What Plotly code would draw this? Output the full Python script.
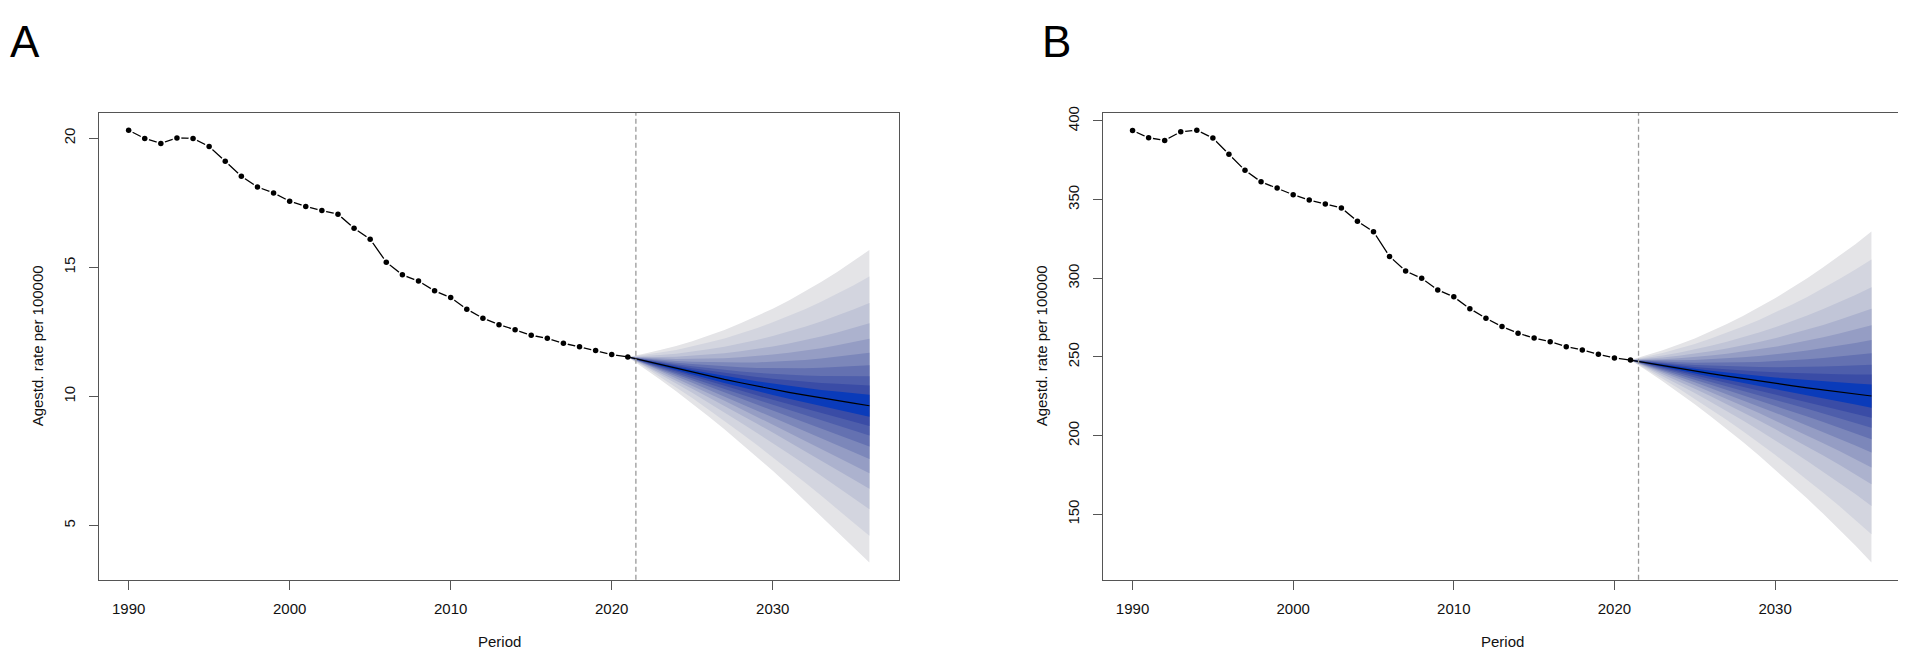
import plotly.graph_objects as go

# observed years and projection years
years_obs = list(range(1990, 2022))
years_pred = list(range(2021, 2037))
x_ticks = [1990, 2000, 2010, 2020, 2030]
cut_year = 2021.5

# panel A
a_obs = [20.31, 19.99, 19.80, 20.01, 19.99, 19.68, 19.11, 18.53, 18.11, 17.88,
         17.56, 17.36, 17.20, 17.06, 16.51, 16.09, 15.20, 14.71, 14.47, 14.09,
         13.83, 13.38, 13.03, 12.78, 12.58, 12.37, 12.25, 12.06, 11.92, 11.78,
         11.62, 11.53]
a_median = [11.53, 11.38, 11.23, 11.08, 10.94, 10.80, 10.66, 10.53, 10.40, 10.28,
            10.16, 10.05, 9.94, 9.84, 9.74, 9.64]
a_upper = [11.53, 11.65, 11.80, 11.95, 12.14, 12.35, 12.57, 12.83, 13.10, 13.40,
           13.72, 14.06, 14.43, 14.82, 15.23, 15.67]
a_lower = [11.53, 11.11, 10.66, 10.20, 9.73, 9.23, 8.73, 8.20, 7.66, 7.12,
           6.55, 5.98, 5.39, 4.79, 4.17, 3.57]
a_ticks = [5, 10, 15, 20]

# panel B
b_obs = [393.9, 389.3, 387.6, 393.1, 394.1, 389.1, 378.8, 368.6, 361.3, 357.3,
         353.1, 349.7, 347.2, 344.7, 336.3, 329.6, 313.9, 304.6, 300.0, 292.6,
         288.2, 280.7, 274.6, 269.3, 265.1, 262.0, 259.7, 256.5, 254.5, 251.7,
         249.4, 248.0]
b_median = [248.0, 246.2, 244.4, 242.7, 241.0, 239.4, 237.8, 236.2, 234.7, 233.2,
            231.8, 230.4, 229.1, 227.8, 226.5, 225.2]
b_upper = [248.0, 250.9, 254.2, 257.9, 261.8, 266.3, 270.9, 276.1, 281.5, 287.3,
           293.6, 300.0, 307.0, 314.2, 321.7, 329.8]
b_lower = [248.0, 241.4, 234.5, 227.4, 220.0, 212.2, 204.3, 195.9, 187.4, 178.5,
           169.3, 160.0, 150.3, 140.4, 130.2, 119.4]
b_ticks = [150, 200, 250, 300, 350, 400]

# share of the outer spread reached by each fan band edge (inner -> outer)
band_fracs = [0.07, 0.13, 0.19, 0.26, 0.34, 0.43, 0.53, 0.66, 0.83, 1.0]
band_colors = ["#0A3BBA", "#3A4CA6", "#4E5EAB", "#6471B1", "#7C87BA",
               "#959DC4", "#ACB2CE", "#C1C5D7", "#D3D5DF", "#E4E4E7"]

FONT = "Liberation Sans, Arial, sans-serif"
OFF = 8  # the page body margin pushes the figure 8px right and down
W, H = 1906 - OFF, 651 - OFF
AXIS_COL = "#555555"


def px_x(x):
    return (x - OFF) / W


def px_y(y):
    return 1 - (y - OFF) / H


fig = go.Figure()


def r_range(vals):
    lo, hi = min(vals), max(vals)
    pad = (hi - lo) * 0.04
    return [lo - pad, hi + pad]


def add_panel(obs, med, up, lo, xa, ya):
    # fan, outer band first
    for frac, col in reversed(list(zip(band_fracs, band_colors))):
        top = [m + frac * (u - m) for m, u in zip(med, up)]
        bot = [m - frac * (m - l) for m, l in zip(med, lo)]
        fig.add_trace(go.Scatter(
            x=years_pred + years_pred[::-1], y=top + bot[::-1],
            fill="toself", fillcolor=col, mode="lines", line=dict(width=0),
            hoverinfo="skip", showlegend=False, xaxis=xa, yaxis=ya))
    fig.add_trace(go.Scatter(
        x=years_pred, y=med, mode="lines", line=dict(color="black", width=1.2),
        showlegend=False, xaxis=xa, yaxis=ya))
    # observed series drawn R "type b" style
    fig.add_trace(go.Scatter(
        x=years_obs, y=obs, mode="lines", line=dict(color="black", width=1.3),
        showlegend=False, xaxis=xa, yaxis=ya))
    fig.add_trace(go.Scatter(
        x=years_obs[:-1], y=obs[:-1], mode="markers",
        marker=dict(color="white", size=9), hoverinfo="skip",
        showlegend=False, xaxis=xa, yaxis=ya))
    fig.add_trace(go.Scatter(
        x=years_obs, y=obs, mode="markers",
        marker=dict(color="black", size=5.5),
        showlegend=False, xaxis=xa, yaxis=ya))


add_panel(a_obs, a_median, a_upper, a_lower, "x", "y")
add_panel(b_obs, b_median, b_upper, b_lower, "x2", "y2")

x_range = r_range(years_obs + years_pred)
y_dom = [px_y(579), px_y(107)]

xaxis_style = dict(
    range=x_range, tickvals=x_ticks, ticks="outside", ticklen=9,
    tickcolor=AXIS_COL, tickwidth=1.2, showline=True, linecolor=AXIS_COL,
    linewidth=1.3, mirror=True, showgrid=False, zeroline=False,
    tickfont=dict(size=15, color="#111111", family=FONT), ticklabelstandoff=6)
yaxis_style = dict(
    ticks="outside", ticklen=9, tickcolor=AXIS_COL, tickwidth=1.2,
    showline=True, linecolor=AXIS_COL, linewidth=1.3, mirror=True,
    showgrid=False, zeroline=False, tickangle=-90,
    tickfont=dict(size=15, color="#111111", family=FONT), ticklabelstandoff=8,
    domain=y_dom)

fig.update_layout(
    width=W, height=H,
    margin=dict(l=0, r=0, t=0, b=0),
    paper_bgcolor="white", plot_bgcolor="white",
    showlegend=False,
    font=dict(family=FONT, color="#111111"),
    xaxis=dict(xaxis_style, domain=[px_x(99), px_x(899)], anchor="y"),
    yaxis=dict(yaxis_style, range=r_range(a_obs + a_upper + a_lower),
               tickvals=a_ticks, anchor="x"),
    xaxis2=dict(xaxis_style, domain=[px_x(1103), px_x(1901)], anchor="y2"),
    yaxis2=dict(yaxis_style, range=r_range(b_obs + b_upper + b_lower),
                tickvals=b_ticks, anchor="x2"),
)

for xa, ya in [("x", "y domain"), ("x2", "y2 domain")]:
    fig.add_shape(type="line", xref=xa, yref=ya, x0=cut_year, x1=cut_year,
                  y0=0, y1=1, line=dict(color="#9a9a9a", width=1.3, dash="5px,3px"))

annots = [
    dict(text="A", x=0, y=1, xanchor="left", yanchor="top",
         font=dict(size=44, color="black")),
    dict(text="B", x=px_x(1040), y=1, xanchor="left", yanchor="top",
         font=dict(size=44, color="black")),
    dict(text="Agestd. rate per 100000", x=px_x(37), y=px_y(343),
         xanchor="center", yanchor="middle", textangle=-90,
         font=dict(size=15)),
    dict(text="Agestd. rate per 100000", x=px_x(1041), y=px_y(343),
         xanchor="center", yanchor="middle", textangle=-90,
         font=dict(size=15)),
    dict(text="Period", x=px_x(499), y=px_y(641), xanchor="center",
         yanchor="middle", font=dict(size=15)),
    dict(text="Period", x=px_x(1502), y=px_y(641), xanchor="center",
         yanchor="middle", font=dict(size=15)),
]
for a in annots:
    fig.add_annotation(xref="paper", yref="paper", showarrow=False, **a)

fig.write_html("out.html")
